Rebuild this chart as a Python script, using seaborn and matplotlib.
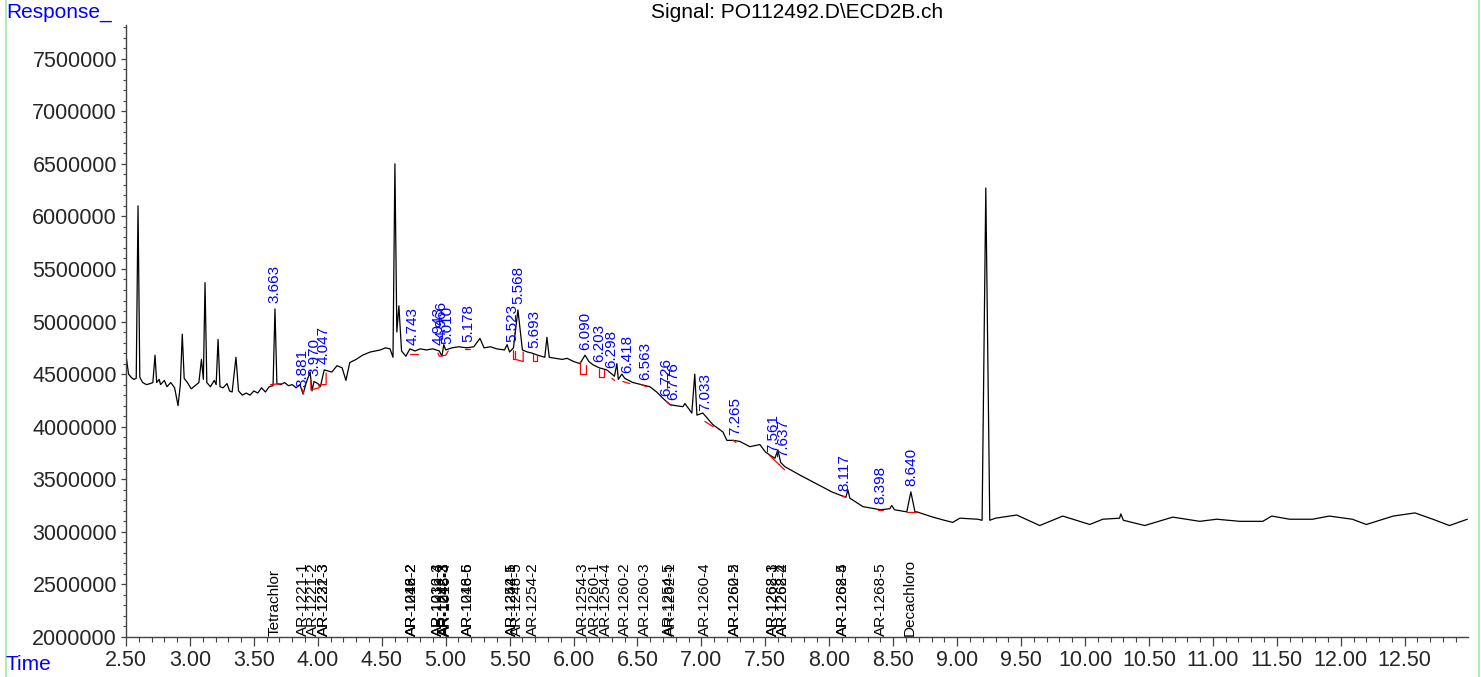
import numpy as np
import pandas as pd
import matplotlib
matplotlib.use("Agg")
import matplotlib.pyplot as plt
from matplotlib.lines import Line2D
from matplotlib.ticker import MultipleLocator, FuncFormatter
import seaborn as sns

#************************************ data ************************************

# trace points: retention time (min) and detector response
trace_time = [
    2.50, 2.52, 2.54, 2.56, 2.58, 2.594, 2.608, 2.63, 2.66, 2.69, 2.71, 2.727, 2.74, 2.76, 2.77,
    2.80, 2.82, 2.85, 2.88, 2.907, 2.925, 2.94, 2.955, 2.98, 3.01, 3.04, 3.07, 3.09, 3.105, 3.118,
    3.132, 3.16, 3.19, 3.205, 3.22, 3.235, 3.26, 3.29, 3.31, 3.33, 3.36, 3.38, 3.41, 3.44, 3.47,
    3.50, 3.53, 3.56, 3.59, 3.62, 3.65, 3.665, 3.68, 3.71, 3.74, 3.77, 3.80, 3.83, 3.86, 3.885,
    3.91, 3.94, 3.955, 3.97, 4.00, 4.02, 4.05, 4.08, 4.11, 4.15, 4.19, 4.22, 4.25, 4.30, 4.35,
    4.41, 4.45, 4.49, 4.53, 4.565, 4.588, 4.603, 4.618, 4.634, 4.655, 4.689, 4.72, 4.76, 4.80, 4.85,
    4.90, 4.95, 4.971, 4.985, 5.00, 5.05, 5.10, 5.166, 5.22, 5.268, 5.30, 5.35, 5.40, 5.46, 5.48,
    5.50, 5.53, 5.565, 5.60, 5.64, 5.674, 5.72, 5.775, 5.792, 5.81, 5.86, 5.91, 5.95, 6.00, 6.05,
    6.09, 6.12, 6.15, 6.20, 6.26, 6.30, 6.32, 6.339, 6.35, 6.378, 6.40, 6.464, 6.53, 6.597, 6.65,
    6.699, 6.753, 6.80, 6.855, 6.871, 6.925, 6.948, 6.965, 7.011, 7.089, 7.168, 7.199, 7.25, 7.30, 7.379,
    7.457, 7.50, 7.535, 7.575, 7.598, 7.62, 7.652, 7.77, 7.926, 8.02, 8.083, 8.13, 8.145, 8.161, 8.263,
    8.40, 8.473, 8.489, 8.51, 8.606, 8.638, 8.67, 8.685, 8.81, 8.90, 8.966, 9.021, 9.161, 9.195, 9.224,
    9.255, 9.30, 9.466, 9.646, 9.826, 10.037, 10.139, 10.27, 10.28, 10.30, 10.467, 10.686, 10.897, 11.03, 11.21,
    11.39, 11.46, 11.60, 11.78, 11.91, 12.09, 12.20, 12.41, 12.58, 12.72, 12.85, 12.99,
]
trace_response = [
    4.68e6, 4.50e6, 4.47e6, 4.45e6, 4.46e6, 6.10e6, 4.47e6, 4.42e6, 4.40e6, 4.41e6, 4.42e6, 4.68e6, 4.42e6, 4.45e6, 4.40e6,
    4.44e6, 4.38e6, 4.42e6, 4.37e6, 4.20e6, 4.40e6, 4.88e6, 4.46e6, 4.42e6, 4.36e6, 4.39e6, 4.42e6, 4.64e6, 4.45e6, 5.37e6,
    4.42e6, 4.38e6, 4.44e6, 4.40e6, 4.83e6, 4.38e6, 4.37e6, 4.41e6, 4.34e6, 4.33e6, 4.66e6, 4.34e6, 4.30e6, 4.32e6, 4.30e6,
    4.34e6, 4.32e6, 4.37e6, 4.33e6, 4.38e6, 4.39e6, 5.12e6, 4.41e6, 4.40e6, 4.42e6, 4.39e6, 4.40e6, 4.37e6, 4.40e6, 4.31e6,
    4.42e6, 4.52e6, 4.34e6, 4.43e6, 4.41e6, 4.38e6, 4.54e6, 4.53e6, 4.52e6, 4.58e6, 4.56e6, 4.44e6, 4.61e6, 4.64e6, 4.68e6,
    4.71e6, 4.72e6, 4.73e6, 4.75e6, 4.74e6, 4.66e6, 6.50e6, 4.90e6, 5.15e6, 4.72e6, 4.67e6, 4.74e6, 4.72e6, 4.74e6, 4.73e6,
    4.74e6, 4.72e6, 4.67e6, 4.78e6, 4.73e6, 4.75e6, 4.76e6, 4.75e6, 4.76e6, 4.84e6, 4.75e6, 4.76e6, 4.74e6, 4.73e6, 4.78e6,
    4.71e6, 4.75e6, 5.11e6, 4.73e6, 4.71e6, 4.70e6, 4.68e6, 4.66e6, 4.85e6, 4.66e6, 4.65e6, 4.64e6, 4.65e6, 4.62e6, 4.60e6,
    4.68e6, 4.62e6, 4.59e6, 4.56e6, 4.54e6, 4.50e6, 4.48e6, 4.60e6, 4.45e6, 4.50e6, 4.46e6, 4.42e6, 4.40e6, 4.38e6, 4.33e6,
    4.27e6, 4.21e6, 4.20e6, 4.19e6, 4.22e6, 4.13e6, 4.50e6, 4.11e6, 4.13e6, 4.02e6, 3.95e6, 3.87e6, 3.87e6, 3.86e6, 3.81e6,
    3.83e6, 3.76e6, 3.73e6, 3.70e6, 3.78e6, 3.66e6, 3.62e6, 3.54e6, 3.44e6, 3.38e6, 3.35e6, 3.33e6, 3.40e6, 3.32e6, 3.24e6,
    3.21e6, 3.22e6, 3.25e6, 3.21e6, 3.19e6, 3.38e6, 3.19e6, 3.19e6, 3.14e6, 3.11e6, 3.09e6, 3.13e6, 3.12e6, 3.11e6, 6.27e6,
    3.11e6, 3.13e6, 3.16e6, 3.06e6, 3.15e6, 3.07e6, 3.12e6, 3.13e6, 3.17e6, 3.11e6, 3.06e6, 3.14e6, 3.10e6, 3.12e6, 3.10e6,
    3.10e6, 3.15e6, 3.12e6, 3.12e6, 3.15e6, 3.12e6, 3.07e6, 3.15e6, 3.18e6, 3.12e6, 3.06e6, 3.12e6,
]

# integrated peaks (blue labels)
peak_rt = [3.663, 3.881, 3.970, 4.047, 4.743, 4.943, 4.966, 5.010, 5.178, 5.523, 5.568, 5.693,
           6.090, 6.203, 6.298, 6.418, 6.563, 6.726, 6.776, 7.033, 7.265, 7.561, 7.637, 8.117,
           8.398, 8.640]

# integration baselines (red), each a list of (time, response)
baseline_segments = [
    [(3.63, 4.40e6), (3.72, 4.41e6)],
    [(3.876, 4.36e6), (3.89, 4.31e6)],
    [(3.946, 4.44e6), (3.946, 4.35e6), (4.01, 4.37e6), (4.01, 4.40e6), (4.065, 4.40e6), (4.065, 4.51e6)],
    [(4.72, 4.69e6), (4.78, 4.69e6)],
    [(4.94, 4.70e6), (4.95, 4.67e6), (5.00, 4.68e6), (5.02, 4.72e6)],
    [(5.15, 4.74e6), (5.19, 4.74e6)],
    [(5.523, 4.73e6), (5.523, 4.64e6), (5.545, 4.64e6), (5.545, 4.72e6)],
    [(5.545, 4.64e6), (5.606, 4.62e6), (5.606, 4.71e6)],
    [(5.68, 4.69e6), (5.68, 4.62e6), (5.716, 4.62e6), (5.716, 4.68e6)],
    [(6.05, 4.62e6), (6.05, 4.50e6), (6.10, 4.50e6), (6.10, 4.59e6)],
    [(6.198, 4.55e6), (6.198, 4.47e6), (6.237, 4.47e6), (6.237, 4.54e6)],
    [(6.30, 4.46e6), (6.32, 4.44e6)],
    [(6.385, 4.43e6), (6.44, 4.41e6)],
    [(6.53, 4.40e6), (6.57, 4.38e6)],
    [(6.727, 4.24e6), (6.766, 4.20e6)],
    [(7.027, 4.05e6), (7.092, 4.00e6)],
    [(7.248, 3.87e6), (7.27, 3.85e6)],
    [(7.53, 3.73e6), (7.65, 3.59e6)],
    [(8.10, 3.34e6), (8.13, 3.33e6)],
    [(8.38, 3.21e6), (8.42, 3.21e6)],
    [(8.605, 3.19e6), (8.68, 3.19e6)],
]

# compound windows (black labels along the time axis)
compound_rt = [3.665, 3.886, 3.964, 4.048, 4.048, 4.739, 4.739, 4.739, 4.942, 4.942, 4.990, 4.995,
               5.005, 5.176, 5.176, 5.516, 5.516, 5.555, 5.680, 6.075, 6.167, 6.253, 6.401, 6.555,
               6.745, 6.765, 7.027, 7.261, 7.261, 7.556, 7.556, 7.634, 7.634, 8.108, 8.108, 8.408,
               8.630]
compound_name = ["Tetrachlor", "AR-1221-1", "AR-1221-2", "AR-1232-3", "AR-1221-3", "AR-1016-2",
                 "AR-1242-2", "AR-1248-2", "AR-1016-3", "AR-1232-4", "AR-1242-3", "AR-1248-3",
                 "AR-1016-4", "AR-1016-5", "AR-1248-6", "AR-1242-5", "AR-1254-1", "AR-1248-5",
                 "AR-1254-2", "AR-1254-3", "AR-1260-1", "AR-1254-4", "AR-1260-2", "AR-1260-3",
                 "AR-1254-5", "AR-1262-1", "AR-1260-4", "AR-1260-5", "AR-1262-2", "AR-1268-1",
                 "AR-1262-3", "AR-1268-2", "AR-1262-4", "AR-1268-4", "AR-1262-5", "AR-1268-5",
                 "Decachloro"]

#************************************ plot ************************************

sns.set_theme(style="white")
plt.rcParams["font.family"] = ["Liberation Sans", "DejaVu Sans"]

W, H = 1481, 677
fig = plt.figure(figsize=(W / 100, H / 100), dpi=100)
ax = fig.add_axes([126 / W, 40 / H, (1468 - 126) / W, (637 - 25) / H])

df = pd.DataFrame({"time": trace_time, "response": trace_response})
sns.lineplot(data=df, x="time", y="response", color="black", linewidth=0.9,
             estimator=None, sort=False, ax=ax)

for seg in baseline_segments:
    ts, rs = zip(*seg)
    ax.plot(ts, rs, color="red", linewidth=0.9)

ax.set_xlim(2.5, 12.995)
ax.set_ylim(2000000, 7820000)

# retention time labels just above the local trace maximum
t_arr = np.array(trace_time)
r_arr = np.array(trace_response)
for rt in peak_rt:
    near = r_arr[np.abs(t_arr - rt) <= 0.02]
    top = max([np.interp(rt, t_arr, r_arr)] + list(near))
    ax.annotate(f"{rt:.3f}", xy=(rt, top), xytext=(0, 4), textcoords="offset points",
                rotation=90, ha="center", va="bottom", color="blue", fontsize=11)

for rt, name in zip(compound_rt, compound_name):
    ax.annotate(name, xy=(rt, 2000000), xytext=(0, 1), textcoords="offset points",
                rotation=90, ha="center", va="bottom", color="black", fontsize=11)

# axes styling
for side in ["top", "right"]:
    ax.spines[side].set_visible(False)
for side in ["left", "bottom"]:
    ax.spines[side].set_color("#444444")
    ax.spines[side].set_linewidth(1.0)

ax.set_xticks(np.arange(2.5, 13.0, 0.5))
ax.xaxis.set_major_formatter(FuncFormatter(lambda v, p: f"{v:.2f}"))
ax.xaxis.set_minor_locator(MultipleLocator(0.1))
ax.yaxis.set_major_locator(MultipleLocator(500000))
ax.yaxis.set_major_formatter(FuncFormatter(lambda v, p: f"{int(round(v))}"))
ax.yaxis.set_minor_locator(MultipleLocator(100000))

ax.tick_params(axis="x", which="major", direction="out", length=6.5, width=0.9,
               color="#444444", labelsize=15.5, pad=3, bottom=True)
ax.tick_params(axis="x", which="minor", direction="out", length=3.6, width=0.8,
               color="#444444", bottom=True)
ax.tick_params(axis="y", which="major", direction="out", length=3.5, width=0.9,
               color="#444444", labelsize=15.5, pad=3, left=True)
ax.tick_params(axis="y", which="minor", direction="out", length=2, width=0.8,
               color="#444444", left=True)
ax.set_xlabel("")
ax.set_ylabel("")
ax.grid(False)

# header texts and frame lines
fig.text(6 / W, 1 - 12 / H, "Response_", color="blue", fontsize=15, ha="left", va="center")
fig.text(797 / W, 1 - 12 / H, r"Signal: PO112492.D\ECD2B.ch", color="black", fontsize=15,
         ha="center", va="center")
fig.text(6 / W, 1 - 665 / H, "Time", color="blue", fontsize=15, ha="left", va="center")

for xpix in [5.5, 1478.5]:
    fig.add_artist(Line2D([xpix / W, xpix / W], [0, 1], transform=fig.transFigure,
                          color="#a6e6a6", linewidth=1.2))

fig.savefig("out.png", dpi=100)
